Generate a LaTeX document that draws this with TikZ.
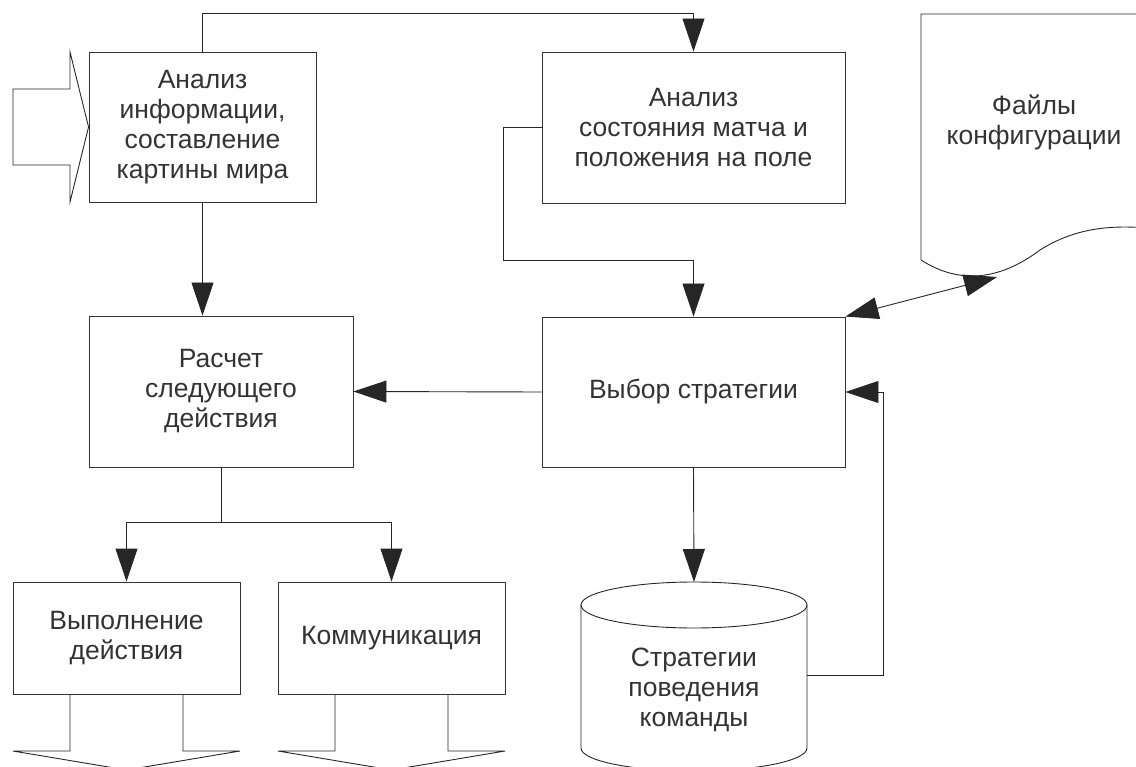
\documentclass[tikz,border=0pt]{standalone}
\usepackage{fontspec}
\setmainfont{Liberation Sans}
\usetikzlibrary{arrows.meta}

\begin{document}
\begin{tikzpicture}[x=1pt,y=-1pt,
    block/.style={draw=black!80, line width=0.9pt, text=black!80, align=center,
        inner sep=0pt, font=\fontsize{26.5}{30}\selectfont},
    label/.style={text=black!80, align=center, inner sep=0pt, font=\fontsize{26.5}{30}\selectfont},
    outline/.style={draw=black!85, line width=0.9pt},
    arr/.style={draw=black!85, line width=0.9pt, -{Triangle[length=33pt,width=22pt]}},
    biarr/.style={draw=black!85, line width=0.9pt, {Triangle[length=33pt,width=22pt]}-{Triangle[length=33pt,width=22pt]}}]
    \useasboundingbox (0,0) rectangle (1136,767);
    % Blocks
    \node[block, minimum width=227pt, minimum height=150pt] (info) at (202.5,127) {Анализ\\информации,\\составление\\картины мира};
    \node[block, minimum width=303pt, minimum height=151pt] (match) at (693.5,127.5) {Анализ\\состояния матча и\\положения на поле};
    \node[block, minimum width=264pt, minimum height=151pt] (calc) at (221,391.5) {Расчет\\следующего\\действия};
    \node[block, minimum width=303pt, minimum height=150pt] (strat) at (693.5,392) {Выбор стратегии};
    \node[block, minimum width=227pt, minimum height=112pt] (exec) at (126.5,638) {Выполнение\\действия};
    \node[block, minimum width=227pt, minimum height=112pt] (comm) at (391.5,638) {Коммуникация};
    % Strategy storage
    \draw[outline] (694,605) ellipse[x radius=113, y radius=23];
    \draw[outline] (581,605) -- (581,748) arc[start angle=180, end angle=0, x radius=113, y radius=23] -- (807,605);
    \node[label] (store) at (694,690) {Стратегии\\поведения\\команды};
    \coordinate (storetop) at (694,582);
    \coordinate (storeright) at (807,675);
    % Config files
    \draw[outline] (921,260) -- (921,14) -- (1147,14) -- (1147,228)
        .. controls (1110,225) and (1075,228) .. (1040,250)
        .. controls (1000,280) and (960,285) .. (921,260);
    \node[label] (files) at (1034,122) {Файлы\\конфигурации};
    \coordinate (filesedge) at (997,277);
    % Input and output
    \draw[outline] (13,89) -- (70,89) -- (70,52) -- (info.west) -- (70,202) -- (70,165) -- (13,165) -- cycle;
    \foreach \c in {126.5,391.5} {
        \draw[outline] (\c-56.5,694) -- (\c-56.5,751) -- (\c-113.5,751) -- (\c,770)
            -- (\c+113.5,751) -- (\c+56.5,751) -- (\c+56.5,694);
    }
    % Arrows
    \draw[arr] (info.north) -- ++(0,-38) -| (match.north);
    \draw[arr] (match.west) -- ++(-38,0) -- ++(0,132.5) -| (strat.north);
    \draw[arr] (info.south) -- (info.south |- calc.north);
    \draw[arr] (strat.west) -- (calc.east);
    \draw[outline] (calc.south) -- ++(0,55) coordinate (split);
    \foreach \n in {exec,comm} {
        \draw[arr] (split) -| (\n.north);
    }
    \draw[arr] (strat.south) -- (storetop);
    \draw[arr] (storeright) -- ++(76,0) |- (strat.east);
    \draw[biarr] (strat.north east) -- (filesedge);
\end{tikzpicture}
\end{document}
